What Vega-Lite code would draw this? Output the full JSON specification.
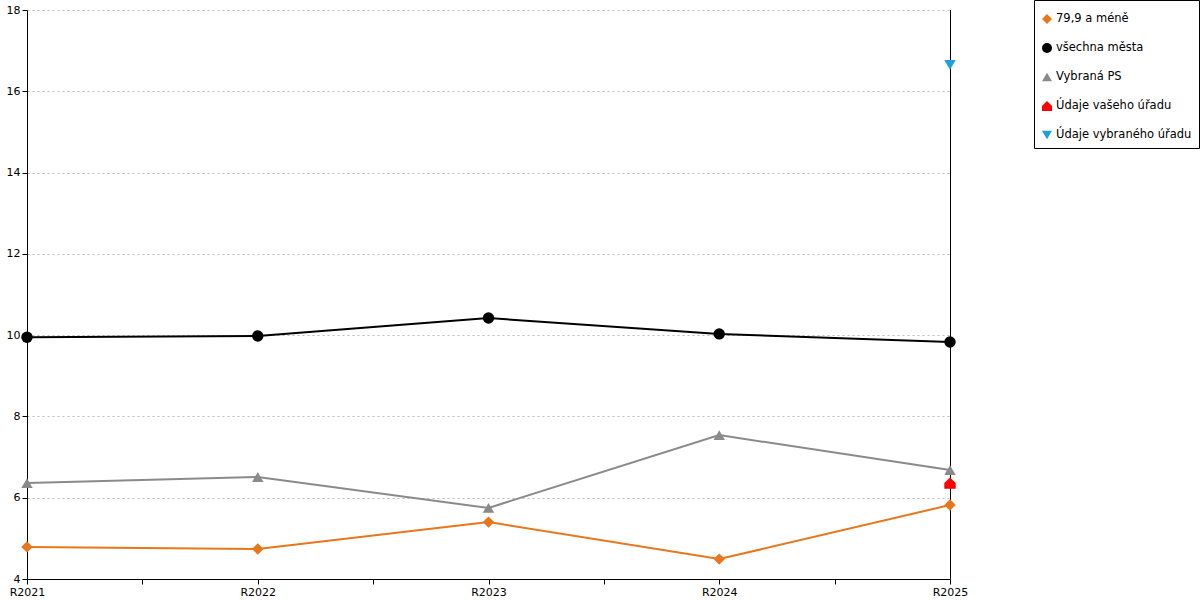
{
  "$schema": "https://vega.github.io/schema/vega-lite/v6.json",
  "width": 923,
  "height": 569,
  "autosize": {"type": "none"},
  "padding": {"left": 27, "top": 10, "right": 250, "bottom": 21},
  "background": "white",
  "config": {
    "font": "DejaVu Sans",
    "view": {"stroke": null},
    "axis": {"labelFont": "DejaVu Sans", "labelFontSize": 11, "labelColor": "black", "domainColor": "black", "tickColor": "black", "tickSize": 5}
  },
  "datasets": {
    "hodnoty": [
      {"rada": "79,9 a méně", "rok": 2021, "hodnota": 4.79},
      {"rada": "79,9 a méně", "rok": 2022, "hodnota": 4.74},
      {"rada": "79,9 a méně", "rok": 2023, "hodnota": 5.40},
      {"rada": "79,9 a méně", "rok": 2024, "hodnota": 4.49},
      {"rada": "79,9 a méně", "rok": 2025, "hodnota": 5.82},
      {"rada": "všechna města", "rok": 2021, "hodnota": 9.95},
      {"rada": "všechna města", "rok": 2022, "hodnota": 9.98},
      {"rada": "všechna města", "rok": 2023, "hodnota": 10.42},
      {"rada": "všechna města", "rok": 2024, "hodnota": 10.03},
      {"rada": "všechna města", "rok": 2025, "hodnota": 9.83},
      {"rada": "Vybraná PS", "rok": 2021, "hodnota": 6.36},
      {"rada": "Vybraná PS", "rok": 2022, "hodnota": 6.51},
      {"rada": "Vybraná PS", "rok": 2023, "hodnota": 5.75},
      {"rada": "Vybraná PS", "rok": 2024, "hodnota": 7.54},
      {"rada": "Vybraná PS", "rok": 2025, "hodnota": 6.68},
      {"rada": "Údaje vašeho úřadu", "rok": 2025, "hodnota": 6.36},
      {"rada": "Údaje vybraného úřadu", "rok": 2025, "hodnota": 16.65}
    ]
  },
  "data": {"name": "hodnoty"},
  "encoding": {
    "x": {
      "field": "rok", "type": "quantitative",
      "scale": {"domain": [2021, 2025], "nice": false, "zero": false},
      "axis": {
        "title": null, "grid": false,
        "values": [2021, 2021.5, 2022, 2022.5, 2023, 2023.5, 2024, 2024.5, 2025],
        "labelExpr": "datum.value % 1 == 0 ? 'R' + datum.value : ''",
        "labelFlush": false, "labelOverlap": false, "labelPadding": 2
      }
    },
    "y": {
      "field": "hodnota", "type": "quantitative",
      "scale": {"domain": [4, 18], "nice": false, "zero": false},
      "axis": {
        "title": null,
        "values": [4, 6, 8, 10, 12, 14, 16, 18],
        "grid": true, "gridColor": "#bbbbbb", "gridDash": [2, 3], "gridWidth": 1,
        "labelPadding": 2
      }
    }
  },
  "layer": [
    {
      "mark": {"type": "rule", "color": "black", "strokeWidth": 1, "xOffset": 0.5},
      "encoding": {"x": {"datum": 2025}, "y": null}
    },
    {
      "transform": [{"filter": "datum.rada == '79,9 a méně'"}],
      "mark": {"type": "line", "strokeWidth": 2, "color": "#E8761B"},
      "encoding": {}
    },
    {
      "transform": [{"filter": "datum.rada == 'všechna města'"}],
      "mark": {"type": "line", "strokeWidth": 2, "color": "#000000"},
      "encoding": {}
    },
    {
      "transform": [{"filter": "datum.rada == 'Vybraná PS'"}],
      "mark": {"type": "line", "strokeWidth": 2, "color": "#8a8a8a"},
      "encoding": {}
    },
    {
      "mark": {"type": "point", "filled": true, "opacity": 1, "size": 130},
      "encoding": {
        "color": {
          "field": "rada", "type": "nominal", "title": " ",
          "scale": {
            "domain": ["79,9 a méně", "všechna města", "Vybraná PS", "Údaje vašeho úřadu", "Údaje vybraného úřadu"],
            "range": ["#E8761B", "#000000", "#8a8a8a", "#FF0000", "#1BA1E2"]
          },
          "legend": {
            "orient": "none", "legendX": 1007, "legendY": -10,
            "strokeColor": "black", "fillColor": "white", "padding": 7,
            "title": " ", "titleFontSize": 3, "titlePadding": 3,
            "symbolSize": 100, "labelFontSize": 11.5, "labelFont": "DejaVu Sans",
            "labelColor": "black", "rowPadding": 17, "labelOffset": 3
          }
        },
        "shape": {
          "field": "rada", "type": "nominal", "title": " ",
          "scale": {
            "domain": ["79,9 a méně", "všechna města", "Vybraná PS", "Údaje vašeho úřadu", "Údaje vybraného úřadu"],
            "range": ["diamond", "circle", "triangle-up", "M-1,0L0,-1L1,0L1,1L-1,1Z", "triangle-down"]
          }
        }
      }
    }
  ]
}
